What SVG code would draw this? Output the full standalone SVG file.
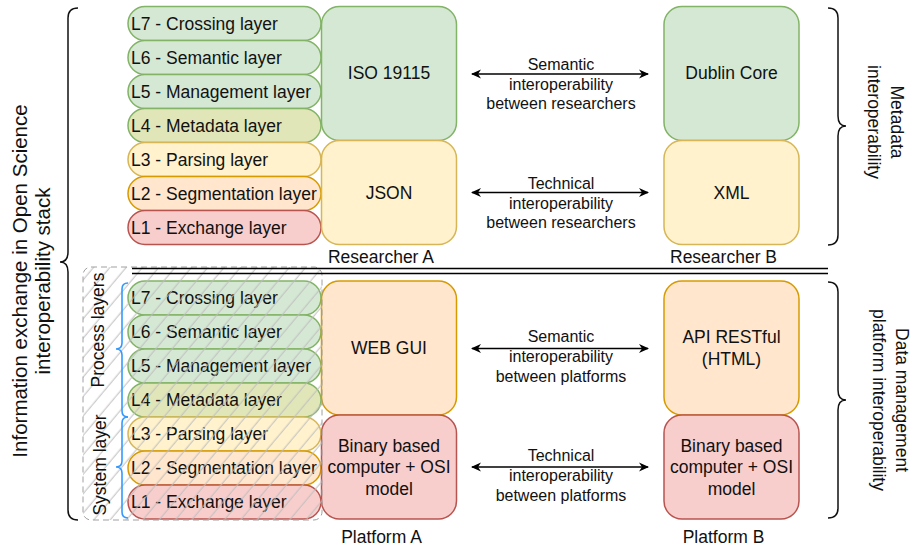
<svg xmlns="http://www.w3.org/2000/svg" width="914" height="550" viewBox="0 0 914 550">
<style>
text{font-family:"Liberation Sans",Arial,sans-serif;fill:#111;}
.lbl{font-size:17.5px;}
.cl{font-size:17.5px;text-anchor:middle;}
.el{font-size:16px;text-anchor:middle;}
.big{font-size:20.5px;text-anchor:middle;}
.g{fill:#d5e8d4;stroke:#82b366;stroke-width:1.5;}
.m{fill:#e1e6b9;stroke:#82b366;stroke-width:1.5;}
.y{fill:#fff2cc;stroke:#d6b656;stroke-width:1.5;}
.o{fill:#ffe6cc;stroke:#d79b00;stroke-width:1.5;}
.r{fill:#f8cecc;stroke:#b85450;stroke-width:1.5;}
.br{fill:none;stroke:#111;stroke-width:1.5;}
.bb{fill:none;stroke:#3399ff;stroke-width:1.6;}
.ar{fill:none;stroke:#000;stroke-width:1.5;marker-start:url(#ah);marker-end:url(#ah);}
</style>
<defs>
<marker id="ah" viewBox="0 0 10 10" refX="9" refY="5" markerWidth="10" markerHeight="10" markerUnits="userSpaceOnUse" orient="auto-start-reverse">
<path d="M0,0.5 L10,5 L0,9.5 L3,5 z" fill="#000"/>
</marker>
<pattern id="hatch" width="12.5" height="12.5" patternUnits="userSpaceOnUse" patternTransform="rotate(40)">
<line x1="6" y1="0" x2="6" y2="12.5" stroke="#bdbdbd" stroke-width="1"/>
</pattern>
</defs>

<!-- Top layer stack (Researcher A) -->
<g id="top-layers">
<g id="t-l7"><rect class="g" x="128" y="6.5" width="193" height="34" rx="17"/><text class="lbl" x="131" y="29.8">L7 - Crossing layer</text></g>
<g id="t-l6"><rect class="g" x="128" y="40.5" width="193" height="34" rx="17"/><text class="lbl" x="131" y="63.8">L6 - Semantic layer</text></g>
<g id="t-l5"><rect class="g" x="128" y="74.5" width="193" height="34" rx="17"/><text class="lbl" x="131" y="97.8">L5 - Management layer</text></g>
<g id="t-l4"><rect class="m" x="128" y="108.5" width="193" height="34" rx="17"/><text class="lbl" x="131" y="131.8">L4 - Metadata layer</text></g>
<g id="t-l3"><rect class="y" x="128" y="142.5" width="193" height="34" rx="17"/><text class="lbl" x="131" y="165.8">L3 - Parsing layer</text></g>
<g id="t-l2"><rect class="o" x="128" y="176.5" width="193" height="34" rx="17"/><text class="lbl" x="131" y="199.8">L2 - Segmentation layer</text></g>
<g id="t-l1"><rect class="r" x="128" y="210.5" width="193" height="34" rx="17"/><text class="lbl" x="131" y="233.8">L1 - Exchange layer</text></g>
</g>

<!-- Bottom layer stack (Platform A) -->
<g id="bottom-layers">
<g id="b-l7"><rect class="g" x="128" y="281" width="193" height="34" rx="17"/><text class="lbl" x="131" y="304.3">L7 - Crossing layer</text></g>
<g id="b-l6"><rect class="g" x="128" y="315" width="193" height="34" rx="17"/><text class="lbl" x="131" y="338.3">L6 - Semantic layer</text></g>
<g id="b-l5"><rect class="g" x="128" y="349" width="193" height="34" rx="17"/><text class="lbl" x="131" y="372.3">L5 - Management layer</text></g>
<g id="b-l4"><rect class="m" x="128" y="383" width="193" height="34" rx="17"/><text class="lbl" x="131" y="406.3">L4 - Metadata layer</text></g>
<g id="b-l3"><rect class="y" x="128" y="417" width="193" height="34" rx="17"/><text class="lbl" x="131" y="440.3">L3 - Parsing layer</text></g>
<g id="b-l2"><rect class="o" x="128" y="451" width="193" height="34" rx="17"/><text class="lbl" x="131" y="474.3">L2 - Segmentation layer</text></g>
<g id="b-l1"><rect class="r" x="128" y="485" width="193" height="34" rx="17"/><text class="lbl" x="131" y="508.3">L1 - Exchange layer</text></g>
</g>

<!-- Researcher boxes -->
<g id="iso"><rect class="g" x="321.5" y="6.5" width="135" height="134" rx="18"/><text class="cl" x="389" y="79">ISO 19115</text></g>
<g id="json"><rect class="y" x="321.5" y="140.5" width="135" height="104" rx="18"/><text class="cl" x="389" y="198.5">JSON</text></g>
<g id="dublin"><rect class="g" x="664" y="6.5" width="135" height="134" rx="18"/><text class="cl" x="731.5" y="79">Dublin Core</text></g>
<g id="xml"><rect class="y" x="664" y="140.5" width="135" height="104" rx="18"/><text class="cl" x="731.5" y="198.5">XML</text></g>
<g id="researcher-a"><text class="cl" x="381" y="263.3">Researcher A</text></g>
<g id="researcher-b"><text class="cl" x="723.5" y="263.3">Researcher B</text></g>

<!-- Platform boxes -->
<g id="webgui"><rect class="o" x="321.5" y="281" width="135" height="134" rx="18"/><text class="cl" x="389" y="353.5">WEB GUI</text></g>
<g id="binary-a"><rect class="r" x="321.5" y="415" width="135" height="104" rx="18"/><text class="cl" x="389" y="451.5">Binary based</text><text class="cl" x="389" y="473">computer + OSI</text><text class="cl" x="389" y="494.5">model</text></g>
<g id="api"><rect class="o" x="664" y="281" width="135" height="134" rx="18"/><text class="cl" x="731.5" y="343">API RESTful</text><text class="cl" x="731.5" y="364.5">(HTML)</text></g>
<g id="binary-b"><rect class="r" x="664" y="415" width="135" height="104" rx="18"/><text class="cl" x="731.5" y="451.5">Binary based</text><text class="cl" x="731.5" y="473">computer + OSI</text><text class="cl" x="731.5" y="494.5">model</text></g>
<g id="platform-a"><text class="cl" x="381.5" y="543.3">Platform A</text></g>
<g id="platform-b"><text class="cl" x="723.5" y="543.3">Platform B</text></g>

<!-- Hatched OSI region -->
<g id="osi-region">
<rect x="83" y="267" width="239" height="253" rx="8" fill="url(#hatch)" stroke="#a0a0a0" stroke-width="1" stroke-dasharray="6 4"/>
</g>

<!-- Separator double line -->
<g id="separator">
<line x1="132" y1="268.5" x2="828" y2="268.5" stroke="#000" stroke-width="1.6"/>
<line x1="132" y1="273.5" x2="828" y2="273.5" stroke="#000" stroke-width="1.6"/>
</g>

<!-- Connectors -->
<g id="connectors">
<line class="ar" x1="472" y1="74" x2="648" y2="74"/>
<line class="ar" x1="472" y1="192.5" x2="648" y2="192.5"/>
<line class="ar" x1="472" y1="348.5" x2="648" y2="348.5"/>
<line class="ar" x1="472" y1="467" x2="648" y2="467"/>
<text class="el" x="561" y="70.4">Semantic</text>
<text class="el" x="561" y="89.7">interoperability</text>
<text class="el" x="561" y="109">between researchers</text>
<text class="el" x="561" y="189">Technical</text>
<text class="el" x="561" y="208.7">interoperability</text>
<text class="el" x="561" y="227.9">between researchers</text>
<text class="el" x="561" y="342.4">Semantic</text>
<text class="el" x="561" y="362.4">interoperability</text>
<text class="el" x="561" y="381.7">between platforms</text>
<text class="el" x="561" y="461.4">Technical</text>
<text class="el" x="561" y="481.4">interoperability</text>
<text class="el" x="561" y="500.7">between platforms</text>
</g>

<!-- Braces -->
<g id="brace-left">
<path class="br" d="M78,8 Q68,8 68,18 L68,252 Q68,262 60,262 Q68,262 68,272 L68,510 Q68,520 78,520"/>
<text class="big" transform="translate(26.5,281) rotate(-90)">Information exchange in Open Science</text>
<text class="big" transform="translate(49.5,281) rotate(-90)">interoperability stack</text>
</g>
<g id="brace-metadata">
<path class="br" d="M828,8 Q838,8 838,18 L838,116 Q838,126 846,126 Q838,126 838,136 L838,235 Q838,245 828,245"/>
<text class="cl" transform="translate(890.5,122) rotate(90)">Metadata</text>
<text class="cl" transform="translate(868,122) rotate(90)">interoperability</text>
</g>
<g id="brace-platform">
<path class="br" d="M828,282 Q838,282 838,292 L838,390 Q838,400 846,400 Q838,400 838,410 L838,508 Q838,518 828,518"/>
<text class="cl" transform="translate(896,400) rotate(90)">Data management</text>
<text class="cl" transform="translate(873,400) rotate(90)">platform interoperability</text>
</g>
<g id="brace-process">
<path class="bb" d="M128,283 Q122,283 122,289 L122,343 Q122,349 116,349 Q122,349 122,355 L122,411 Q122,417 128,417"/>
<text class="cl" transform="translate(104,330) rotate(-90)">Process layers</text>
</g>
<g id="brace-system">
<path class="bb" d="M128,417 Q122,417 122,423 L122,461 Q122,467 116,467 Q122,467 122,473 L122,512 Q122,518 128,518"/>
<text class="cl" transform="translate(106,465) rotate(-90)">System layer</text>
</g>
</svg>
